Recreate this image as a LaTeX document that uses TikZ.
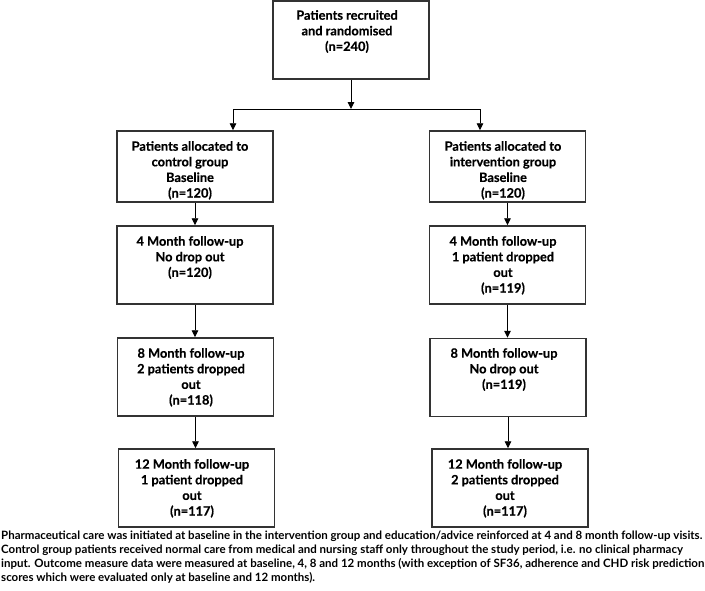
\documentclass[tikz,border=0pt]{standalone}
\usepackage{fontspec}
\setmainfont{Lato}[BoldFeatures={FakeBold=0.4}]
\newfontfamily\capfont{Lato}
\usetikzlibrary{arrows.meta,calc}
\tikzset{
  box/.style={draw=black!80, line width=1.5pt, rectangle, inner sep=0pt,
    minimum width=156pt, minimum height=78pt},
  txt/.style={anchor=north, align=center, inner sep=0pt,
    font=\bfseries\fontsize{12.8}{15.6}\selectfont},
  arr/.style={draw=black, line width=0.9pt, -{Triangle[width=6.5pt,length=7pt]}},
  ln/.style={draw=black, line width=0.9pt}
}
\begin{document}
\begin{tikzpicture}[x=1pt,y=-1pt]
\useasboundingbox[fill=white] (0,0) rectangle (705,590);
% boxes
\node[box, minimum height=78pt] (top) at (351,40) {};
\node[box, minimum height=71pt] (l1) at (195,166.5) {};
\node[box, minimum height=71pt] (r1) at (507.5,166.5) {};
\node[box] (l2) at (195,265) {};
\node[box] (r2) at (507.5,265) {};
\node[box] (l3) at (195.5,377) {};
\node[box] (r3) at (508,377.5) {};
\node[box] (l4) at (196.5,488) {};
\node[box] (r4) at (510,488) {};
% texts
\node[txt] (toptxt) at (347,10) {Patients recruited\\and randomised\\(n=240)};
\node[txt] (l1txt) at (190,141) {Patients allocated to\\control group\\Baseline\\(n=120)};
\node[txt] (r1txt) at (503,141) {Patients allocated to\\intervention group\\Baseline\\(n=120)};
\node[txt] (l2txt) at (190,236) {4 Month follow-up\\No drop out\\(n=120)};
\node[txt] (r2txt) at (503,236) {4 Month follow-up\\1 patient dropped\\out\\(n=119)};
\node[txt] (l3txt) at (191,348) {8 Month follow-up\\2 patients dropped\\out\\(n=118)};
\node[txt] (r3txt) at (504,348) {8 Month follow-up\\No drop out\\(n=119)};
\node[txt] (l4txt) at (192,459) {12 Month follow-up\\1 patient dropped\\out\\(n=117)};
\node[txt] (r4txt) at (505,459) {12 Month follow-up\\2 patients dropped\\out\\(n=117)};
% connectors
\coordinate (split) at (351,109);
\coordinate (hl) at (233,109);
\coordinate (hr) at (480,109);
\draw[arr] (top.south) -- (split);
\draw[ln] (hl) -- (hr);
\draw[arr] (hl) -- (hl |- l1.north);
\draw[arr] (hr) -- (hr |- r1.north);
\draw[arr] (l1.south) -- (l2.north -| l1.south);
\draw[arr] (r1.south) -- (r2.north -| r1.south);
\draw[arr] (l2.south) -- (l3.north -| l2.south);
\draw[arr] (r2.south) -- (r3.north -| r2.south);
\draw[arr] (l3.south) -- (l4.north -| l3.south);
\draw[arr] (r3.south) -- (r4.north -| r3.south);
% caption
\node[anchor=north west, align=left, inner sep=0pt,
  font=\capfont\fontsize{11.5}{14}\selectfont\bfseries] (cap) at (1,531)
{Pharmaceutical care was initiated at baseline in the intervention group and education/advice reinforced at 4 and 8 month follow-up visits.\\
Control group patients received normal care from medical and nursing staff only throughout the study period, i.e. no clinical pharmacy\\
input. Outcome measure data were measured at baseline, 4, 8 and 12 months (with exception of SF36, adherence and CHD risk prediction\\
scores which were evaluated only at baseline and 12 months).};
\end{tikzpicture}
\end{document}
